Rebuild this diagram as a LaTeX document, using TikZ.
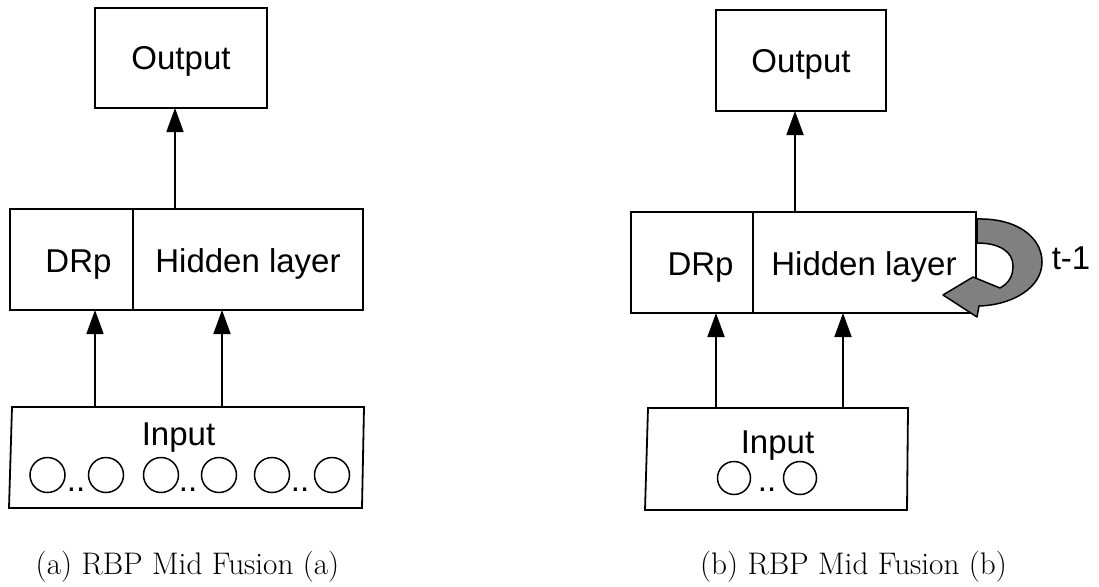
\documentclass[tikz,border=0pt]{standalone}
\usepackage{fontspec}
\newfontfamily\dgfont{Liberation Sans}
\usetikzlibrary{arrows.meta}
\tikzset{
  boxnode/.style={draw, line width=1.8pt, inner sep=0pt, outer sep=0pt,
    minimum width=#1},
  boxnode/.default=100pt,
  blankbox/.style={inner sep=0pt, outer sep=0pt},
  lbl/.style={inner sep=0pt, anchor=base, font=\dgfont\fontsize{33}{40}\selectfont},
  captext/.style={inner sep=0pt, anchor=base, font=\fontsize{31.2}{37}\selectfont},
  neuron/.style={draw, circle, line width=1.5pt, inner sep=0pt, minimum size=#1},
  neuron/.default=35pt,
  arr/.style={line width=1.8pt, -{Triangle[length=24pt,width=17pt]}},
  outline/.style={line width=1.8pt, line join=miter},
  loopshape/.style={line width=1.5pt, fill=black!50, line join=round}
}
\begin{document}
\begin{tikzpicture}[x=1pt,y=-1pt]
\useasboundingbox (0,0) rectangle (1099,586);

% ---------- (a) ----------
\node[boxnode=172pt, minimum height=100pt] (outA) at (181,58) {};
\node[boxnode=123pt, minimum height=101pt] (drpA) at (71.5,259.5) {};
\node[boxnode=230pt, minimum height=101pt] (hidA) at (248,259.5) {};
\node[blankbox, minimum width=355pt, minimum height=101pt] (inA) at (186.5,457.5) {};
\draw[outline] ([xshift=3pt]inA.north west) -- (inA.north east)
  -- ([xshift=-2pt]inA.south east) -- (inA.south west) -- cycle;

\node[lbl] (tOutA) at (181,70) {Output};
\node[lbl] (tDrpA) at (78.5,272) {DRp};
\node[lbl] (tHidA) at (248,272) {Hidden layer};
\node[lbl] (tInA) at (178.5,445) {Input};

\node[neuron] (a1) at (47.5,475) {};
\node[neuron] (a2) at (106,475) {};
\node[neuron] (a3) at (161,475) {};
\node[neuron] (a4) at (219,475) {};
\node[neuron] (a5) at (272,475) {};
\node[neuron] (a6) at (332,475) {};
\node[lbl] (da1) at (76,491) {..};
\node[lbl] (da2) at (188,491) {..};
\node[lbl] (da3) at (300,491) {..};

\coordinate (xa0) at (175,0);
\coordinate (xa1) at (95,0);
\coordinate (xa2) at (222,0);
\draw[arr] (hidA.north -| xa0) -- (outA.south -| xa0);
\draw[arr] (inA.north -| xa1) -- (drpA.south -| xa1);
\draw[arr] (inA.north -| xa2) -- (hidA.south -| xa2);

\node[captext] (capA) at (187.5,574) {(a) RBP Mid Fusion (a)};

% ---------- (b) ----------
\node[boxnode=170pt, minimum height=101pt] (outB) at (801,60.5) {};
\node[boxnode=122pt, minimum height=101pt] (drpB) at (692,262.5) {};
\node[boxnode=223pt, minimum height=101pt] (hidB) at (864.5,262.5) {};
\node[blankbox, minimum width=263pt, minimum height=102pt] (inB) at (776.5,459) {};
\draw[outline] ([xshift=3pt]inB.north west) -- (inB.north east)
  -- ([xshift=-1pt]inB.south east) -- (inB.south west) -- cycle;

\node[lbl] (tOutB) at (801,72) {Output};
\node[lbl] (tDrpB) at (700.5,275) {DRp};
\node[lbl] (tHidB) at (864,275) {Hidden layer};
\node[lbl] (tInB) at (777.5,453) {Input};

\node[neuron=33pt] (b1) at (734,478) {};
\node[neuron=33pt] (b2) at (800,478) {};
\node[lbl] (db1) at (767,491) {..};

\coordinate (xb0) at (795,0);
\coordinate (xb1) at (716,0);
\coordinate (xb2) at (843,0);
\draw[arr] (hidB.north -| xb0) -- (outB.south -| xb0);
\draw[arr] (inB.north -| xb1) -- (drpB.south -| xb1);
\draw[arr] (inB.north -| xb2) -- (hidB.south -| xb2);

% recurrent loop on the hidden layer
\draw[loopshape] (977,219) .. controls (1018,218) and (1042,238) .. (1042,262)
  .. controls (1042,288) and (1012,305) .. (979,306)
  -- (977,317) -- (943,295) -- (973,277) -- (1000,288)
  .. controls (1009,283) and (1013,276) .. (1013,266)
  .. controls (1013,252) and (1000,243) .. (977,243) -- cycle;
\node[lbl] (tLoop) at (1071,269) {t-1};

\node[captext] (capB) at (853.5,574) {(b) RBP Mid Fusion (b)};
\end{tikzpicture}
\end{document}
